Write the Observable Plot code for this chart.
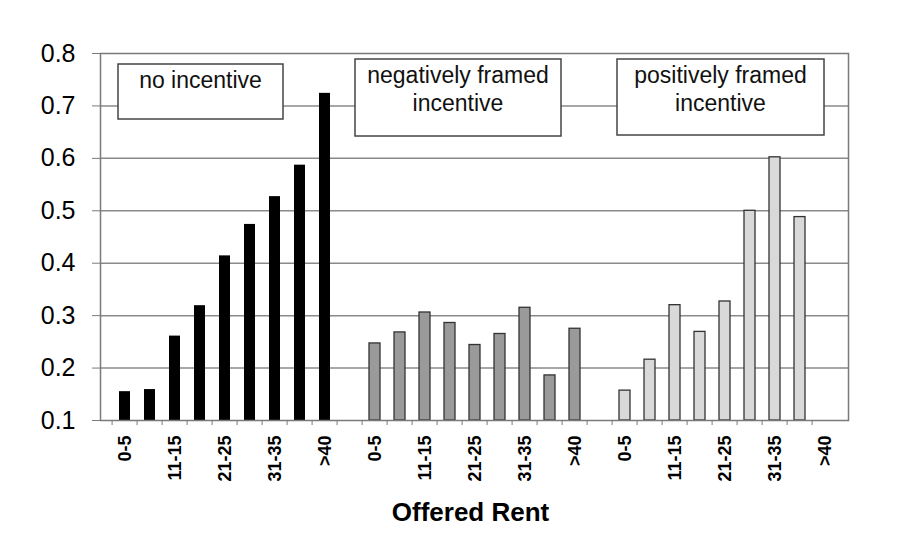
<!DOCTYPE html>
<html><head><meta charset="utf-8">
<script src="https://cdn.jsdelivr.net/npm/d3@7"></script>
<script src="https://cdn.jsdelivr.net/npm/@observablehq/plot@0.6"></script>
<style>
body{margin:0;background:#fff;font-family:"Liberation Sans",Arial,sans-serif;}
#chart{position:relative;width:921px;height:538px;}
</style></head><body><div id="chart"></div>
<script>
// ---- data ----
const rentBins = ["0-5","6-10","11-15","16-20","21-25","26-30","31-35","36-40",">40"];
const groups = ["no incentive","negatively framed incentive","positively framed incentive"];
const boxLabels = [["no incentive"],["negatively framed","incentive"],["positively framed","incentive"]];
const noIncentive = [0.155,0.159,0.261,0.319,0.414,0.474,0.527,0.587,0.724];
const negFramed   = [0.247,0.268,0.306,0.286,0.244,0.265,0.315,0.186,0.275];
const posFramed   = [0.157,0.216,0.320,0.269,0.327,0.500,0.602,0.488,null];
const yTicks = [0.1,0.2,0.3,0.4,0.5,0.6,0.7,0.8];
const xTitle = "Offered Rent";
const groupColors = ["#000000","#9a9a9a","#d9d9d9"];

// ---- layout ----
const W=921, H=538, mL=100, mR=73, mT=53, mB=118;
const boxLayout = [
  {left:118, top:64, width:165, height:55},
  {left:355, top:59, width:206, height:77},
  {left:617, top:59, width:207, height:76}
];

// ---- build table ----
const seriesValues = [noIncentive, negFramed, posFramed];
const slots = [];
const rows = [];
groups.forEach((g, gi) => {
  if (gi > 0) slots.push("gap" + gi);
  rentBins.forEach((b, bi) => {
    const key = gi + "|" + b;
    slots.push(key);
    const v = seriesValues[gi][bi];
    if (v != null) rows.push({slot:key, group:g, bin:b, value:v});
  });
});
const step = (W - mL - mR) / slots.length;
const labelFmt = k => {
  if (k.startsWith("gap")) return "";
  const b = k.split("|")[1];
  return rentBins.indexOf(b) % 2 === 0 ? b : "";
};

const chart = Plot.plot({
  width:W, height:H, marginLeft:mL, marginRight:mR, marginTop:mT, marginBottom:mB,
  style:{fontFamily:"'Liberation Sans', Arial, sans-serif", background:"white", color:"#000"},
  x:{type:"band", domain:slots, padding:0, label:null},
  y:{domain:[yTicks[0], yTicks[yTicks.length-1]], label:null},
  color:{domain:groups, range:groupColors},
  marks:[
    Plot.ruleY(yTicks.slice(1,-1), {stroke:"#8a8a8a", strokeWidth:1.5}),
    Plot.barY(rows.filter(d=>d.group===groups[0]), {x:"slot", y1:yTicks[0], y2:"value", fill:"group", insetLeft:7, insetRight:7}),
    Plot.barY(rows.filter(d=>d.group!==groups[0]), {x:"slot", y1:yTicks[0], y2:"value", fill:"group", stroke:"#333", strokeWidth:1.3, insetLeft:7, insetRight:7}),
    Plot.frame({stroke:"#7a7a7a", strokeWidth:1.5}),
    Plot.axisY({ticks:yTicks, tickFormat:d3.format(".1f"), tickSize:8, tickPadding:17, fontSize:25, stroke:"#7a7a7a", label:null}),
    Plot.axisX({ticks:slots, tickFormat:()=>"", tickSize:5, dx:-step/2, stroke:"#7a7a7a", label:null}),
    Plot.axisX({ticks:slots, tickFormat:labelFmt, tickSize:0, tickRotate:-90, tickPadding:15, fontSize:18, fontWeight:"bold", label:null}),
    Plot.text([xTitle], {frameAnchor:"bottom", dy:100, dx:-4, fontSize:26, fontWeight:"bold"})
  ]
});
document.getElementById("chart").appendChild(chart);

// annotation boxes
const svg = d3.select(chart);
const g = svg.append("g");
boxLayout.forEach((b, i) => {
  g.append("rect").attr("x", b.left).attr("y", b.top).attr("width", b.width).attr("height", b.height)
    .attr("fill", "white").attr("stroke", "#444").attr("stroke-width", 1.5);
  boxLabels[i].forEach((line, li) => {
    g.append("text").attr("x", b.left + b.width/2).attr("y", b.top + 24 + li*28)
      .attr("text-anchor", "middle").attr("font-size", 23).attr("fill", "#111").text(line);
  });
});
</script></body></html>
